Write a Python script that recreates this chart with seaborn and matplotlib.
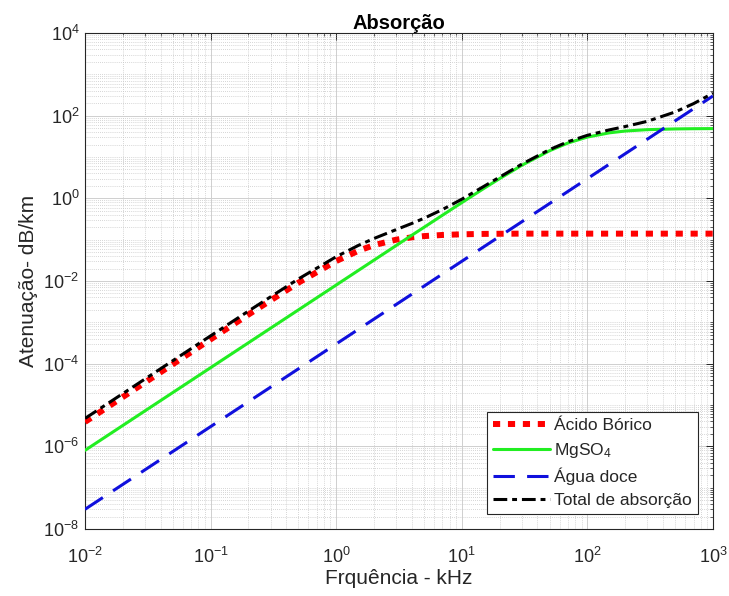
import numpy as np
import pandas as pd
import matplotlib
matplotlib.use("Agg")
import matplotlib.pyplot as plt
import seaborn as sns
from matplotlib.ticker import LogLocator, NullFormatter

# Frequency grid (kHz) and values (dB/km)
freq = [0.01, 0.02, 0.05, 0.1, 0.2, 0.5, 1, 1.5, 2, 3, 4, 5, 7, 10, 15, 20, 30,
        50, 70, 100, 150, 200, 300, 500, 700, 1000]
boric = [3.9e-6, 1.56e-5, 9.7e-5, 3.88e-4, 1.54e-3, 9.1e-3, 0.0304, 0.0538, 0.0737,
         0.100, 0.114, 0.122, 0.130, 0.135, 0.138, 0.139, 0.140, 0.140, 0.140, 0.140,
         0.140, 0.140, 0.140, 0.140, 0.140, 0.140]
mgso4 = [8.0e-7, 3.2e-6, 2.0e-5, 8.0e-5, 3.2e-4, 2.0e-3, 8.0e-3, 0.018, 0.032, 0.072,
         0.128, 0.199, 0.389, 0.787, 1.74, 3.0, 6.28, 14.2, 21.8, 30.4, 38.5, 42.5,
         45.9, 47.8, 48.4, 48.7]
water = [3.0e-8, 1.2e-7, 7.5e-7, 3.0e-6, 1.2e-5, 7.5e-5, 3.0e-4, 6.75e-4, 1.2e-3,
         2.7e-3, 4.8e-3, 7.5e-3, 0.0147, 0.03, 0.0675, 0.12, 0.27, 0.75, 1.47, 3.0,
         6.75, 12.0, 27.0, 75.0, 147.0, 300.0]
total = [4.73e-6, 1.89e-5, 1.18e-4, 4.71e-4, 1.87e-3, 1.12e-2, 0.0387, 0.0725, 0.107,
         0.175, 0.247, 0.329, 0.534, 0.952, 1.95, 3.26, 6.69, 15.1, 23.4, 33.5, 45.4,
         54.6, 73.0, 123.0, 195.5, 349.0]

labels = ["Ácido Bórico", "MgSO$_4$", "Água doce", "Total de absorção"]
yticks = [1e-8, 1e-6, 1e-4, 1e-2, 1e0, 1e2, 1e4]
xticks = [1e-2, 1e-1, 1e0, 1e1, 1e2, 1e3]

sns.set_theme(style="white")
plt.rcParams['font.family'] = ['Liberation Sans', 'DejaVu Sans']
plt.rcParams['mathtext.default'] = 'regular'
plt.rcParams['axes.unicode_minus'] = False

fig = plt.figure(figsize=(7.29, 5.96), dpi=100)
ax = fig.add_axes([0.1166, 0.1124, 0.978 - 0.1166, 0.9446 - 0.1124])

df = pd.DataFrame({"f": freq, "boric": boric, "mgso4": mgso4,
                   "water": water, "total": total})

sns.lineplot(data=df, x="f", y="boric", ax=ax, color="#ff0000", lw=4.3,
             linestyle=(0, (1.2, 1.3)), dash_capstyle="butt", label=labels[0],
             zorder=3)
sns.lineplot(data=df, x="f", y="mgso4", ax=ax, color="#22ee22", lw=2.2,
             label=labels[1], zorder=4)
sns.lineplot(data=df, x="f", y="water", ax=ax, color="#1010dd", lw=2.2,
             linestyle=(0, (7, 4)), label=labels[2], zorder=5)
sns.lineplot(data=df, x="f", y="total", ax=ax, color="black", lw=2.2,
             linestyle=(0, (4.5, 1.6, 1.6, 1.6)), label=labels[3], zorder=6)

ax.set_xscale("log")
ax.set_yscale("log")
ax.set_xlim(1e-2, 1e3)
ax.set_ylim(1e-8, 1e4)
ax.set_xticks(xticks)
ax.set_yticks(yticks)
ax.xaxis.set_minor_locator(LogLocator(base=10, subs=np.arange(1, 10), numticks=200))
ax.yaxis.set_minor_locator(LogLocator(base=10, subs=np.arange(1, 10), numticks=200))
ax.xaxis.set_minor_formatter(NullFormatter())
ax.yaxis.set_minor_formatter(NullFormatter())

ax.grid(True, which="major", color="#cfcfcf", lw=0.7, ls="-")
ax.grid(True, which="minor", color="#c8c8c8", lw=0.6, ls=(0, (1, 1.5)))
ax.set_axisbelow(True)

ax.tick_params(which="both", direction="in", top=True, right=True,
               colors="#262626", labelsize=13)
ax.tick_params(which="major", length=5, width=0.7)
ax.tick_params(which="minor", length=2.5, width=0.5)
ax.tick_params(axis="x", which="major", pad=13)
ax.tick_params(axis="y", which="major", pad=4)
for s in ax.spines.values():
    s.set_color("#262626")
    s.set_linewidth(0.8)

ax.set_title("Absorção", fontsize=14.5, fontweight="bold", color="black", pad=3)
ax.set_xlabel("Frquência - kHz", fontsize=15, color="#262626", labelpad=1)
ax.set_ylabel("Atenuação- dB/km", fontsize=15, color="#262626", labelpad=4)

leg = ax.legend(loc="lower right", fontsize=12.5, frameon=True, fancybox=False,
                framealpha=1, edgecolor="#262626", handlelength=3.3,
                borderaxespad=0.85, labelspacing=0.45, borderpad=0.35,
                handletextpad=0.25)
leg.get_frame().set_linewidth(0.8)

fig.savefig("out.png", dpi=100)
